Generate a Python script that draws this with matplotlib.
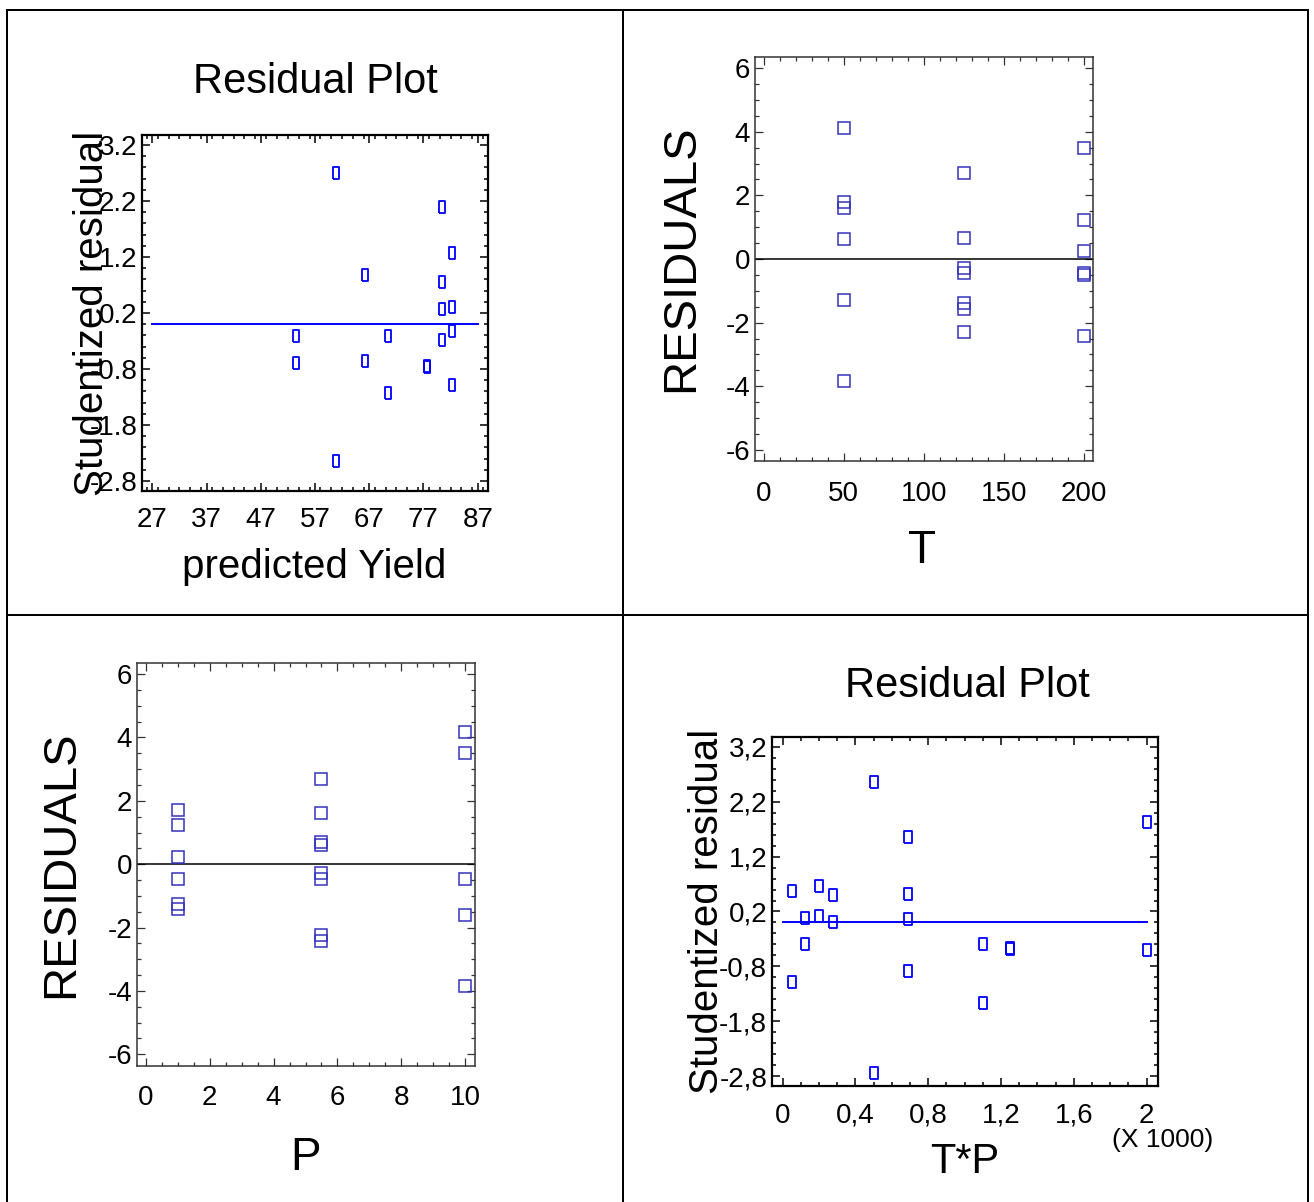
import matplotlib
matplotlib.use("Agg")
import matplotlib.pyplot as plt
import numpy as np
from matplotlib.lines import Line2D
from matplotlib.ticker import MultipleLocator, FixedLocator, FixedFormatter

plt.rcParams['font.family'] = ['Liberation Sans', 'DejaVu Sans']
plt.rcParams['axes.unicode_minus'] = False

# ---------------- data ----------------
# Panel 1: studentized residual vs predicted Yield
pred_yield = [60.9, 80.5, 82.3, 66.3, 80.4, 80.4, 82.3, 53.5, 70.4, 82.3,
              80.5, 53.5, 66.3, 77.6, 77.7, 70.4, 82.3, 60.9]
stud_res_pred = [2.71, 2.09, 1.27, 0.87, 0.75, 0.27, 0.31, -0.21, -0.21, -0.13,
                 -0.28, -0.69, -0.65, -0.75, -0.77, -1.23, -1.09, -2.45]

# Panel 2: residuals vs T
T_vals = [50, 50, 50, 50, 50, 50,
          125, 125, 125, 125, 125, 125, 125,
          200, 200, 200, 200, 200, 200]
resid_T = [4.13, 1.78, 1.59, 0.63, -1.29, -3.84,
           2.69, 0.67, -0.29, -0.45, -1.39, -1.58, -2.30,
           3.50, 1.24, 0.25, -0.43, -0.49, -2.41]

# Panel 3: residuals vs P
P_vals = [1, 1, 1, 1, 1, 1,
          5.5, 5.5, 5.5, 5.5, 5.5, 5.5, 5.5, 5.5,
          10, 10, 10, 10, 10]
resid_P = [1.72, 1.25, 0.23, -0.46, -1.27, -1.43,
           2.69, 1.62, 0.69, 0.62, -0.27, -0.46, -2.25, -2.43,
           4.17, 3.51, -0.48, -1.59, -3.84]

# Panel 4: studentized residual vs T*P
TP_vals = [50, 50, 125, 125, 200, 200, 275, 275, 500, 500,
           687.5, 687.5, 687.5, 687.5, 1100, 1100, 1250, 1250, 2000, 2000]
stud_res_TP = [0.58, -1.09, 0.08, -0.40, 0.67, 0.12, 0.50, 0.00, 2.56, -2.75,
               1.56, 0.52, 0.06, -0.88, -0.40, -1.46, -0.47, -0.48, 1.84, -0.50]

stud_ticks = [-2.8, -1.8, -0.8, 0.2, 1.2, 2.2, 3.2]
stud_labels_dot = ['-2.8', '-1.8', '-0.8', '0.2', '1.2', '2.2', '3.2']
stud_labels_comma = ['-2,8', '-1,8', '-0,8', '0,2', '1,2', '2,2', '3,2']
yield_ticks = [27, 37, 47, 57, 67, 77, 87]
T_ticks = [0, 50, 100, 150, 200]
P_ticks = [0, 2, 4, 6, 8, 10]
TP_ticks = [0, 0.4, 0.8, 1.2, 1.6, 2.0]
TP_labels = ['0', '0,4', '0,8', '1,2', '1,6', '2']
resid_ticks = [-6, -4, -2, 0, 2, 4, 6]

# ---------------- figure ----------------
W, H = 1314, 1202
fig = plt.figure(figsize=(W / 100, H / 100), dpi=100)
fig.patch.set_facecolor('white')

def fx(x):
    return x / W

def fy(y):
    return 1 - y / H

def add_axes_px(x0, y0, x1, y1):
    return fig.add_axes([fx(x0), fy(y1), (x1 - x0) / W, (y1 - y0) / H])

# table grid lines
grid_lw = 2.0 * 72 / 100
for (xa, ya, xb, yb) in [(7, 10, 1308, 10), (7, 10, 7, 1210), (1308, 10, 1308, 1210),
                         (623, 10, 623, 1210), (7, 615, 1308, 615)]:
    fig.add_artist(Line2D([fx(xa), fx(xb)], [fy(ya), fy(yb)], transform=fig.transFigure,
                          color='black', lw=grid_lw, solid_capstyle='projecting'))

rect_marker = [(-0.5, -1), (0.5, -1), (0.5, 1), (-0.5, 1), (-0.5, -1)]
rect_marker2 = [(-0.65, -1), (0.65, -1), (0.65, 1), (-0.65, 1), (-0.65, -1)]
blue = '#0000ff'
sq_color = '#3333bb'

def style_axes(ax, spine_lw, tick_fs, xpad, ypad, maj_len=5.8, min_len=2.9, tw=1.0, color='black'):
    for s in ax.spines.values():
        s.set_linewidth(spine_lw)
        s.set_color(color)
    ax.tick_params(which='both', direction='in', top=True, right=True, width=tw, color=color)
    ax.tick_params(which='major', length=maj_len)
    ax.tick_params(which='minor', length=min_len)
    ax.tick_params(axis='x', which='major', labelsize=tick_fs, pad=xpad)
    ax.tick_params(axis='y', which='major', labelsize=tick_fs, pad=ypad)

# ---- Panel 1 ----
ax1 = add_axes_px(142, 135, 488, 491)
ax1.plot(pred_yield, stud_res_pred, linestyle='none', marker=rect_marker, ms=8.8,
         mfc='none', mec=blue, mew=1.3)
ax1.plot([yield_ticks[0], yield_ticks[-1]], [0, 0], color=blue, lw=1.4)
ax1.set_xlim(25.1, 88.9)
ax1.set_ylim(-2.98, 3.38)
ax1.set_xticks(yield_ticks)
ax1.set_xticklabels([str(v) for v in yield_ticks])
ax1.xaxis.set_minor_locator(MultipleLocator(2))
ax1.yaxis.set_major_locator(FixedLocator(stud_ticks))
ax1.yaxis.set_major_formatter(FixedFormatter(stud_labels_dot))
ax1.yaxis.set_minor_locator(FixedLocator(np.arange(-3.0, 3.4, 0.2)))
style_axes(ax1, 1.6, 20, 11.5, 3.5, tw=1.1)

fig.text(fx(315), fy(92.7), 'Residual Plot', fontsize=30, ha='center', va='baseline')
fig.text(fx(314), fy(578), 'predicted Yield', fontsize=29, ha='center', va='baseline')
fig.text(fx(103), fy(313), 'Studentized residual', fontsize=29, rotation=90,
         rotation_mode='anchor', ha='center', va='baseline')

# ---- Panel 2 ----
ax2 = add_axes_px(755, 57, 1093, 461)
ax2.axhline(0, color='black', lw=1.1)
ax2.plot(T_vals, resid_T, linestyle='none', marker='s', ms=8.8, mfc='none',
         mec=sq_color, mew=1.1)
ax2.set_xlim(-5.4, 205.8)
ax2.set_ylim(-6.35, 6.35)
ax2.set_xticks(T_ticks)
ax2.set_yticks(resid_ticks)
ax2.xaxis.set_minor_locator(MultipleLocator(10))
ax2.yaxis.set_minor_locator(MultipleLocator(0.5))
style_axes(ax2, 1.1, 20, 14.5, 3.5, tw=0.9, color='#333333')
ax2.tick_params(labelcolor='black')
fig.text(fx(922), fy(563), 'T', fontsize=33, ha='center', va='baseline')
fig.text(fx(693), fy(258), 'RESIDUALS', fontsize=34, rotation=90,
         rotation_mode='anchor', ha='center', va='baseline')

# ---- Panel 3 ----
ax3 = add_axes_px(137, 663, 475, 1066)
ax3.axhline(0, color='black', lw=1.1)
ax3.plot(P_vals, resid_P, linestyle='none', marker='s', ms=8.8, mfc='none',
         mec=sq_color, mew=1.1)
ax3.set_xlim(-0.28, 10.31)
ax3.set_ylim(-6.37, 6.35)
ax3.set_xticks(P_ticks)
ax3.set_yticks(resid_ticks)
ax3.xaxis.set_minor_locator(MultipleLocator(0.5))
ax3.yaxis.set_minor_locator(MultipleLocator(0.5))
style_axes(ax3, 1.1, 20, 13.5, 3.5, tw=0.9, color='#333333')
ax3.tick_params(labelcolor='black')
fig.text(fx(306), fy(1170), 'P', fontsize=33, ha='center', va='baseline')
fig.text(fx(73), fy(864), 'RESIDUALS', fontsize=34, rotation=90,
         rotation_mode='anchor', ha='center', va='baseline')

# ---- Panel 4 ----
ax4 = add_axes_px(772, 737, 1158, 1086)
TP_k = np.array(TP_vals) / 1000.0
ax4.plot(TP_k, stud_res_TP, linestyle='none', marker=rect_marker2, ms=8.6,
         mfc='none', mec=blue, mew=1.3)
ax4.plot([TP_ticks[0], TP_ticks[-1]], [0, 0], color=blue, lw=1.4)
ax4.set_xlim(-0.059, 2.063)
ax4.set_ylim(-2.98, 3.38)
ax4.xaxis.set_major_locator(FixedLocator(TP_ticks))
ax4.xaxis.set_major_formatter(FixedFormatter(TP_labels))
ax4.xaxis.set_minor_locator(MultipleLocator(0.1))
ax4.yaxis.set_major_locator(FixedLocator(stud_ticks))
ax4.yaxis.set_major_formatter(FixedFormatter(stud_labels_comma))
ax4.yaxis.set_minor_locator(FixedLocator(np.arange(-3.0, 3.4, 0.2)))
style_axes(ax4, 1.6, 20, 12, 3.5, tw=1.1)

fig.text(fx(967), fy(697), 'Residual Plot', fontsize=30, ha='center', va='baseline')
fig.text(fx(965), fy(1173), 'T*P', fontsize=30, ha='center', va='baseline')
fig.text(fx(1213), fy(1147), '(X 1000)', fontsize=19, ha='right', va='baseline')
fig.text(fx(718), fy(911.5), 'Studentized residual', fontsize=29, rotation=90,
         rotation_mode='anchor', ha='center', va='baseline')

fig.savefig('out.png', dpi=100, facecolor='white')
